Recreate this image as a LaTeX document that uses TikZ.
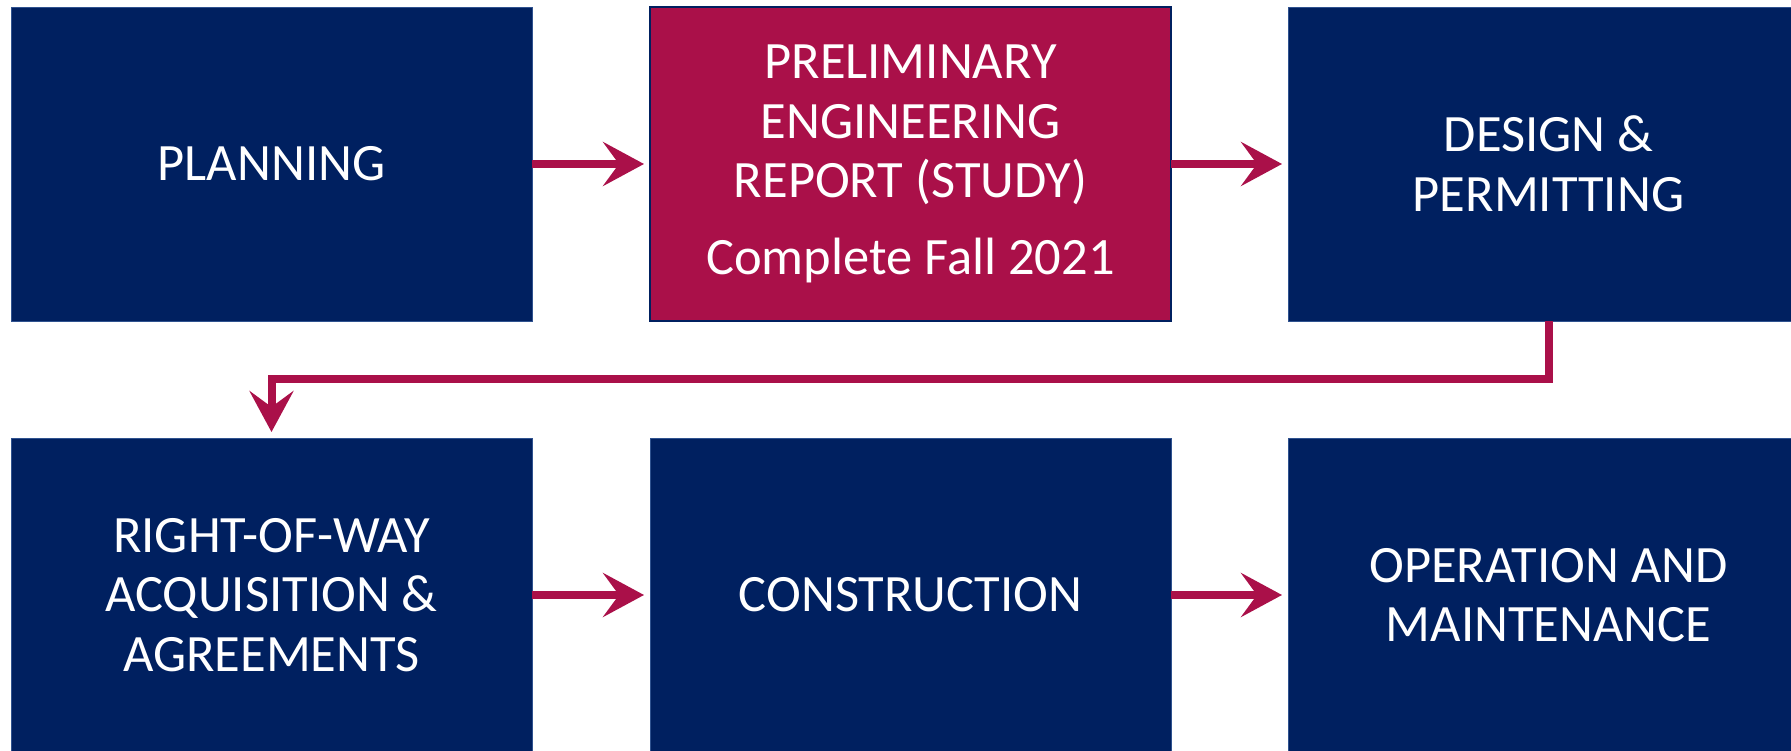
\documentclass[tikz,border=0pt]{standalone}
\usepackage{fontspec}
\setmainfont{Carlito}
\usetikzlibrary{arrows.meta}
\definecolor{navy}{HTML}{002060}
\definecolor{crim}{HTML}{AA1049}
\definecolor{edgeblue}{HTML}{2F528F}
\begin{document}
\begin{tikzpicture}[x=1pt,y=1pt,
  stage/.style={rectangle, fill=navy, draw=edgeblue, line width=0.8pt, minimum width=521pt, minimum height=314pt, inner sep=0pt, outer sep=0pt, text=white, align=center, font=\fontsize{52.5}{59.5}\selectfont},
  hot/.style={stage, fill=crim, draw=navy, line width=2.5pt},
  flow/.style={draw=crim, line width=8pt, -{Stealth[length=41pt,width=44pt,inset=16pt]}, shorten >=6pt}
]
\useasboundingbox (0,0) rectangle (1791,750);
\clip (0,0) rectangle (1791,750);
\node[stage] (b1) at (271.5,586) {PLANNING};
\node[hot]   (b2) at (910.5,586) {PRELIMINARY\\ENGINEERING\\REPORT (STUDY)\\[17pt]Complete Fall 2021};
\node[stage] (b3) at (1548.5,586) {DESIGN \&\\PERMITTING};
\node[stage] (b4) at (271.5,155) {RIGHT-OF-WAY\\ACQUISITION \&\\AGREEMENTS};
\node[stage] (b5) at (910.5,155) {CONSTRUCTION};
\node[stage] (b6) at (1548.5,155) {OPERATION AND\\MAINTENANCE};
\draw[flow] (b1) -- (b2);
\draw[flow] (b2) -- (b3);
\draw[flow] (b3.south) -- ++(0,-58.5) coordinate (k) -| (b4.north);
\draw[flow] (b4) -- (b5);
\draw[flow] (b5) -- (b6);
\end{tikzpicture}
\end{document}
